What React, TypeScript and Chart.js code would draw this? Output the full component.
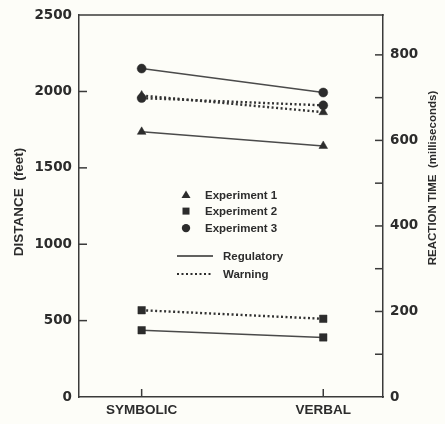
import React, { useEffect, useRef } from 'react';
import { Chart, registerables } from 'chart.js';

Chart.register(...registerables);

// ---- data ----
const categories = ['SYMBOLIC', 'VERBAL'];
const distanceTicks = [0, 500, 1000, 1500, 2000, 2500];
const reactionTicks = [0, 100, 200, 300, 400, 500, 600, 700, 800];
const reactionLabels = [0, 200, 400, 600, 800];

// Reaction time (ms) – right axis
const exp1Regulatory = [620, 587];
const exp1Warning = [705, 666];
const exp3Regulatory = [768, 712];
const exp3Warning = [699, 682];
// Distance (feet) – left axis
const exp2Regulatory = [437, 390];
const exp2Warning = [568, 512];

const legendExperiments = ['Experiment 1', 'Experiment 2', 'Experiment 3'];
const legendLines = ['Regulatory', 'Warning'];

const INK = '#2c2c2c';
const AXIS = '#3a3a3a';
const BG = '#fdfdf8';

const toPts = (vals: number[]) => vals.map((v, i) => ({ x: i, y: v }));

function App() {
  const ref = useRef<HTMLCanvasElement | null>(null);

  useEffect(() => {
    if (!ref.current) return;

    const line = (ctx: CanvasRenderingContext2D, x1: number, y1: number, x2: number, y2: number) => {
      ctx.beginPath();
      ctx.moveTo(x1, y1);
      ctx.lineTo(x2, y2);
      ctx.stroke();
    };

    const frame = {
      id: 'frame',
      beforeDraw(chart: any) {
        const { ctx, width, height } = chart;
        ctx.save();
        ctx.fillStyle = BG;
        ctx.fillRect(0, 0, width, height);
        ctx.restore();
      },
      afterDraw(chart: any) {
        const { ctx, chartArea: a, scales } = chart;
        ctx.save();
        ctx.strokeStyle = AXIS;
        ctx.lineWidth = 1.5;
        line(ctx, a.left - 0.75, a.top, a.right + 0.75, a.top);
        const L = 8;
        scales.y.ticks.forEach((t: any) => {
          if (t.value > 0 && t.value < 2500) {
            const p = scales.y.getPixelForValue(t.value);
            line(ctx, a.left, p, a.left + L, p);
          }
        });
        scales.y2.ticks.forEach((t: any) => {
          if (t.value > 0) {
            const p = scales.y2.getPixelForValue(t.value);
            line(ctx, a.right - L, p, a.right, p);
          }
        });
        scales.x.ticks.forEach((t: any) => {
          const p = scales.x.getPixelForValue(t.value);
          line(ctx, p, a.bottom, p, a.bottom - L);
        });

        // axis titles
        ctx.fillStyle = INK;
        ctx.textAlign = 'center';
        ctx.textBaseline = 'middle';
        ctx.font = 'bold 13.5px "Liberation Sans", Arial, sans-serif';
        ctx.save();
        ctx.translate(19, (a.top + a.bottom) / 2 - 4);
        ctx.rotate(-Math.PI / 2);
        ctx.fillText('DISTANCE  (feet)', 0, 0);
        ctx.restore();
        ctx.save();
        ctx.font = 'bold 11.5px "Liberation Sans", Arial, sans-serif';
        ctx.translate(433, 178);
        ctx.rotate(-Math.PI / 2);
        ctx.fillText('REACTION TIME  (milliseconds)', 0, 0);
        ctx.restore();

        // legend
        const mx = a.left + 107;
        const tx = a.left + 126;
        const ys = [a.top + 180, a.top + 196, a.top + 213];
        ctx.fillStyle = INK;
        // triangle
        ctx.beginPath();
        ctx.moveTo(mx, ys[0] - 4.5);
        ctx.lineTo(mx + 4.5, ys[0] + 3);
        ctx.lineTo(mx - 4.5, ys[0] + 3);
        ctx.closePath();
        ctx.fill();
        // square
        ctx.fillRect(mx - 3.5, ys[1] - 3.5, 7, 7);
        // circle
        ctx.beginPath();
        ctx.arc(mx, ys[2], 4.2, 0, Math.PI * 2);
        ctx.fill();
        ctx.font = 'bold 11.5px "Liberation Sans", Arial, sans-serif';
        ctx.textAlign = 'left';
        legendExperiments.forEach((s, i) => ctx.fillText(s, tx, ys[i] + 0.5));

        const ly = [a.top + 241, a.top + 259];
        ctx.strokeStyle = INK;
        ctx.lineWidth = 1.5;
        line(ctx, a.left + 98, ly[0], a.left + 134, ly[0]);
        ctx.lineWidth = 2;
        ctx.setLineDash([2, 2.5]);
        line(ctx, a.left + 98, ly[1], a.left + 134, ly[1]);
        ctx.setLineDash([]);
        legendLines.forEach((s, i) => ctx.fillText(s, a.left + 144, ly[i] + 0.5));
        ctx.restore();
      },
    };

    const solid = { borderWidth: 1.5, borderColor: '#4a4a4a', borderDash: [] as number[] };
    const dotted = { borderWidth: 2.4, borderColor: '#333', borderDash: [2, 2.5] };
    const mk = (label: string, vals: number[], axis: string, style: string, radius: number, ls: any) => ({
      label,
      data: toPts(vals),
      yAxisID: axis,
      pointStyle: style,
      pointRadius: radius,
      pointBackgroundColor: INK,
      pointBorderColor: INK,
      pointBorderWidth: 0.5,
      showLine: true,
      fill: false,
      ...ls,
    });

    const chart = new Chart(ref.current, {
      type: 'scatter',
      data: {
        datasets: [
          mk('Experiment 1 Regulatory', exp1Regulatory, 'y2', 'triangle', 5, solid),
          mk('Experiment 2 Regulatory', exp2Regulatory, 'y', 'rect', 5.3, solid),
          mk('Experiment 3 Regulatory', exp3Regulatory, 'y2', 'circle', 4.5, solid),
          mk('Experiment 2 Warning', exp2Warning, 'y', 'rect', 5.3, dotted),
          mk('Experiment 3 Warning', exp3Warning, 'y2', 'circle', 4.5, dotted),
          mk('Experiment 1 Warning', exp1Warning, 'y2', 'triangle', 5, dotted),
        ] as any,
      },
      options: {
        animation: false,
        responsive: true,
        maintainAspectRatio: false,
        layout: { padding: { top: 10, left: 0, right: 0, bottom: 0 } },
        plugins: { legend: { display: false }, tooltip: { enabled: false } },
        scales: {
          x: {
            type: 'linear',
            position: 'bottom',
            min: -0.345,
            max: 1.329,
            afterBuildTicks: (s: any) => {
              s.ticks = categories.map((_, i) => ({ value: i }));
            },
            afterFit: (s: any) => {
              s.height = 27;
            },
            grid: { drawOnChartArea: false, drawTicks: false },
            border: { display: true, color: AXIS, width: 1.5 },
            ticks: {
              padding: 5,
              color: INK,
              font: { family: '"Liberation Sans", Arial, sans-serif', weight: 'bold', size: 13.5 },
              callback: (v: any) => categories[v as number] ?? '',
            },
          },
          y: {
            type: 'linear',
            position: 'left',
            min: distanceTicks[0],
            max: distanceTicks[distanceTicks.length - 1],
            afterBuildTicks: (s: any) => {
              s.ticks = distanceTicks.map((v) => ({ value: v }));
            },
            afterFit: (s: any) => {
              s.width = 79;
            },
            grid: { drawOnChartArea: false, drawTicks: false },
            border: { display: true, color: AXIS, width: 1.5 },
            ticks: {
              padding: 7,
              color: INK,
              font: { family: '"DejaVu Sans", sans-serif', weight: 'bold', size: 13.5 },
              callback: (v: any) => String(v),
            },
          },
          y2: {
            type: 'linear',
            position: 'right',
            min: 0,
            max: 893,
            afterBuildTicks: (s: any) => {
              s.ticks = reactionTicks.map((v) => ({ value: v }));
            },
            afterFit: (s: any) => {
              s.width = 62;
            },
            grid: { drawOnChartArea: false, drawTicks: false },
            border: { display: true, color: AXIS, width: 1.5 },
            ticks: {
              padding: 7,
              color: INK,
              font: { family: '"DejaVu Sans", sans-serif', weight: 'bold', size: 13.5 },
              callback: (v: any) => (reactionLabels.includes(v as number) ? String(v) : ''),
            },
          },
        },
      } as any,
      plugins: [frame],
    });

    return () => chart.destroy();
  }, []);

  return (
    <div style={{ position: 'absolute', left: 0, top: 0, width: 445, height: 424, background: BG }}>
      <canvas ref={ref} />
    </div>
  );
}

export default App;
